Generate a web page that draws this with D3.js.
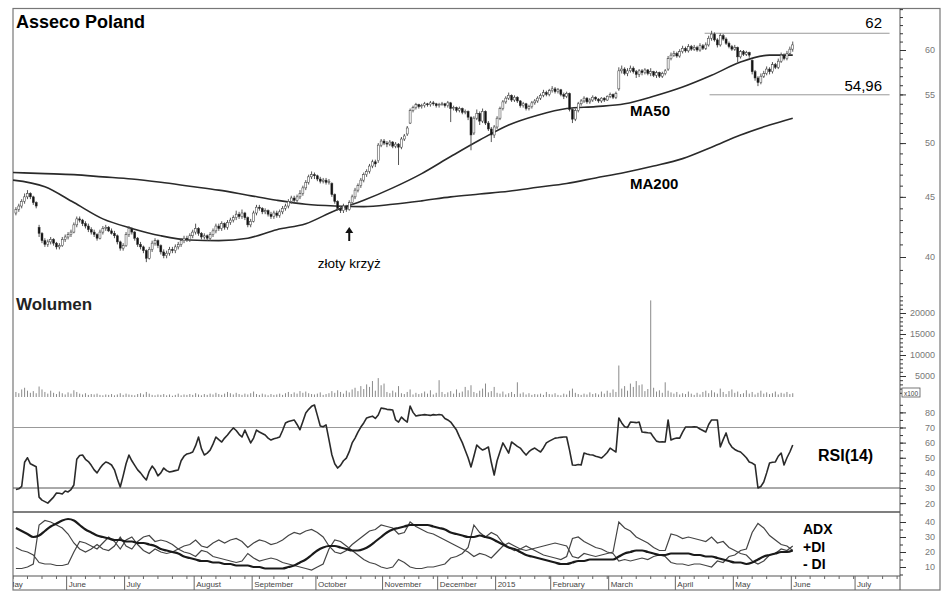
<!DOCTYPE html>
<html><head><meta charset="utf-8">
<script src="https://cdn.jsdelivr.net/npm/d3@7"></script>
<style>body{margin:0;background:#fff}svg{display:block;font-family:"Liberation Sans",Arial,sans-serif}</style>
</head><body>
<svg id="c" width="948" height="593"></svg>
<script>
// ---- data: one entry per trading session (May 2014 - early June 2015) ----
const open=[
43.6,43.9,44.2,44.6,45.0,45.3,45.0,44.5,42.4,41.9,
41.3,41.0,41.2,41.4,41.1,40.8,40.9,41.4,41.6,41.8,
42.0,42.6,43.1,43.0,42.7,42.5,42.2,42.0,41.8,41.5,
42.0,42.3,42.4,42.1,41.9,41.7,41.2,40.7,40.9,41.8,
42.3,42.0,41.5,41.0,40.8,40.5,39.9,40.6,41.1,41.3,
40.9,40.4,40.1,40.3,40.6,40.5,40.8,41.0,41.3,41.5,
41.4,41.7,42.0,42.3,41.9,41.6,41.7,41.5,41.8,42.1,
42.5,42.3,42.7,42.4,42.8,43.0,43.2,43.5,43.3,43.6,
43.2,42.6,42.9,43.6,44.1,44.0,43.7,43.8,43.5,43.3,
43.6,43.4,43.7,44.0,44.2,44.6,44.9,44.7,45.0,45.3,
45.8,46.3,46.8,47.0,46.9,46.6,46.4,46.5,46.3,46.2,
45.2,44.6,44.0,43.8,44.2,43.9,44.5,45.0,45.6,46.0,
46.5,47.0,47.3,47.8,48.2,48.3,49.8,50.2,50.0,49.9,
50.1,49.7,49.9,49.6,50.4,50.9,52.0,53.3,53.6,53.9,
53.7,53.8,54.0,53.9,54.1,54.0,53.8,53.9,54.0,53.8,
54.1,53.5,53.6,53.3,53.5,53.1,53.2,52.6,51.0,52.5,
53.0,52.2,53.2,52.0,51.4,50.8,51.6,52.5,53.5,54.2,
54.6,54.9,54.4,54.7,54.3,53.8,54.0,53.5,53.7,54.1,
54.3,54.6,54.9,55.2,55.0,55.4,55.6,55.3,55.5,55.0,
54.8,55.1,53.4,52.4,53.3,54.0,54.3,54.6,54.2,54.4,
54.7,54.5,54.3,54.6,54.4,54.8,55.0,54.7,55.6,57.6,
57.8,57.3,57.6,57.9,57.5,57.2,57.6,57.4,57.7,57.3,
57.5,57.1,57.4,57.0,57.3,57.8,59.0,59.4,59.6,59.3,
59.8,60.2,59.9,60.4,60.1,60.3,60.0,60.5,60.2,60.6,
61.4,61.9,61.2,60.6,61.7,61.3,60.8,60.4,60.1,60.3,
59.2,59.8,59.5,59.7,58.8,57.5,56.8,56.3,57.0,57.3,
57.8,57.5,58.3,58.0,58.7,59.4,59.0,59.6,60.1];
const high=[
44.1,44.4,44.8,45.3,45.6,45.4,45.1,44.6,42.6,42.0,
41.5,41.4,41.6,41.5,41.2,41.1,41.6,41.8,42.0,42.2,
42.8,43.3,43.3,43.1,42.9,42.7,42.4,42.2,41.9,42.2,
42.5,42.6,42.5,42.3,42.1,41.8,41.3,41.1,42.0,42.5,
42.4,42.1,41.6,41.2,40.9,40.6,40.8,41.3,41.5,41.4,
41.0,40.6,40.5,40.8,40.8,41.0,41.2,41.5,41.7,41.7,
41.9,42.2,42.7,42.4,42.0,41.9,41.8,42.0,42.3,42.7,
42.7,42.9,42.8,43.0,43.2,43.4,43.8,43.7,43.9,43.7,
43.3,43.1,43.8,44.3,44.3,44.1,44.0,43.9,43.7,43.8,
43.8,43.9,44.2,44.4,44.8,45.1,45.1,45.2,45.6,46.0,
46.5,47.0,47.3,47.2,47.0,46.8,46.7,46.7,46.6,46.3,
45.3,44.7,44.2,44.4,44.3,44.7,45.2,45.8,46.2,46.7,
47.2,47.5,48.0,48.4,48.4,50.0,50.4,50.4,50.2,50.3,
50.2,50.1,50.0,50.6,50.9,51.7,53.5,53.8,54.1,54.0,
54.0,54.2,54.1,54.3,54.3,54.1,54.1,54.2,54.1,54.3,
54.2,53.8,53.7,53.7,53.6,53.4,53.3,52.7,52.7,53.4,
53.2,53.5,53.3,52.2,51.6,51.8,52.7,53.7,54.4,54.8,
55.2,55.0,54.9,54.8,54.4,54.2,54.1,53.9,54.3,54.5,
54.8,55.1,55.5,55.4,55.6,55.9,55.8,55.7,55.6,55.2,
55.3,55.2,53.6,53.5,54.2,54.5,54.8,54.7,54.6,54.9,
54.8,54.6,54.7,54.7,54.9,55.2,55.1,55.3,58.0,58.2,
58.0,57.9,58.2,58.1,57.7,57.8,57.8,57.9,57.8,57.9,
57.6,57.6,57.5,57.5,57.8,59.3,59.7,59.9,59.8,60.1,
60.5,60.4,60.7,60.6,60.6,60.5,60.8,60.7,60.9,61.7,
62.3,62.1,61.4,62.0,61.9,61.5,61.0,60.6,60.6,60.4,
60.0,60.0,59.9,59.8,58.9,57.7,57.0,57.3,57.6,58.1,
58.0,58.6,58.5,59.0,59.7,59.6,59.9,60.4,61.0];
const low=[
43.4,43.7,44.0,44.4,44.8,44.8,44.3,44.0,41.6,41.1,
40.8,40.8,41.0,40.9,40.6,40.6,40.8,41.2,41.4,41.6,
41.9,42.4,42.8,42.5,42.3,42.0,41.8,41.6,41.3,41.4,
41.8,42.1,42.0,41.8,41.5,41.0,40.5,40.5,40.8,41.6,
41.8,41.3,40.8,40.6,40.3,39.6,39.8,40.4,40.9,40.7,
40.2,39.9,39.9,40.1,40.3,40.3,40.6,40.8,41.1,41.2,
41.2,41.5,41.8,41.7,41.4,41.4,41.3,41.3,41.6,41.9,
42.1,42.1,42.2,42.2,42.6,42.8,43.0,43.1,43.1,43.0,
42.4,42.4,42.8,43.4,43.8,43.5,43.5,43.3,43.1,43.1,
43.2,43.2,43.5,43.8,44.0,44.4,44.5,44.5,44.8,45.1,
45.6,46.1,46.6,46.6,46.4,46.2,46.2,46.1,46.1,45.0,
44.4,43.8,43.6,43.6,43.7,43.8,44.3,44.8,45.4,45.8,
46.3,46.8,47.1,47.6,47.7,48.1,49.6,49.8,49.6,49.7,
49.5,49.5,47.9,49.4,50.2,50.7,51.9,53.1,53.4,53.5,
53.5,53.6,53.7,53.7,53.8,53.6,53.6,53.8,53.6,53.6,
52.1,53.3,53.1,53.1,52.9,52.9,52.3,49.3,50.8,52.3,
51.8,52.0,51.8,51.2,50.1,50.5,51.4,52.3,53.3,54.0,
54.4,54.2,54.2,54.1,53.6,53.6,53.3,53.3,53.5,53.9,
54.1,54.4,54.7,54.8,54.8,55.2,55.1,55.1,54.8,54.5,
54.6,53.2,52.0,52.2,53.1,53.8,54.1,54.0,54.0,54.2,
54.3,54.1,54.1,54.2,54.3,54.6,54.5,54.5,55.4,57.3,
57.1,57.0,57.4,57.3,56.8,56.9,57.1,57.2,57.1,57.0,
56.9,56.8,56.8,56.8,57.1,57.6,58.8,59.2,59.1,59.1,
59.6,59.7,59.7,59.9,59.9,59.8,59.8,60.0,60.0,60.4,
61.1,61.0,60.3,60.4,61.1,60.6,60.2,59.9,59.9,58.6,
59.0,59.3,59.3,59.1,57.2,56.5,55.9,56.1,56.8,57.1,
57.2,57.3,57.8,57.8,58.5,58.8,58.8,59.4,59.8];
const close=[
43.9,44.2,44.6,45.0,45.3,45.0,44.5,44.2,41.9,41.3,
41.0,41.2,41.4,41.1,40.8,40.9,41.4,41.6,41.8,42.0,
42.6,43.1,43.0,42.7,42.5,42.2,42.0,41.8,41.5,42.0,
42.3,42.4,42.1,41.9,41.7,41.2,40.7,40.9,41.8,42.3,
42.0,41.5,41.0,40.8,40.5,39.9,40.6,41.1,41.3,40.9,
40.4,40.1,40.3,40.6,40.5,40.8,41.0,41.3,41.5,41.4,
41.7,42.0,42.3,41.9,41.6,41.7,41.5,41.8,42.1,42.5,
42.3,42.7,42.4,42.8,43.0,43.2,43.5,43.3,43.6,43.2,
42.6,42.9,43.6,44.1,44.0,43.7,43.8,43.5,43.3,43.6,
43.4,43.7,44.0,44.2,44.6,44.9,44.7,45.0,45.3,45.8,
46.3,46.8,47.0,46.9,46.6,46.4,46.5,46.3,46.4,45.2,
44.6,44.0,43.8,44.2,43.9,44.5,45.0,45.6,46.0,46.5,
47.0,47.3,47.8,48.2,48.0,49.8,50.2,50.0,49.9,50.1,
49.7,49.9,49.6,50.4,50.7,51.5,53.3,53.6,53.9,53.7,
53.8,54.0,53.9,54.1,54.0,53.8,53.9,54.0,53.8,54.1,
53.5,53.6,53.3,53.5,53.1,53.2,52.6,50.8,52.5,53.0,
52.2,53.2,52.0,51.4,50.8,51.6,52.5,53.5,54.2,54.6,
54.9,54.4,54.7,54.3,53.8,54.0,53.5,53.7,54.1,54.3,
54.6,54.9,55.2,55.0,55.4,55.6,55.3,55.5,55.0,54.8,
55.1,53.4,52.4,53.3,54.0,54.3,54.6,54.2,54.4,54.7,
54.5,54.3,54.6,54.4,54.8,55.0,54.7,55.1,57.6,57.8,
57.3,57.6,57.9,57.5,57.2,57.6,57.4,57.7,57.3,57.5,
57.1,57.4,57.0,57.3,57.6,59.0,59.4,59.6,59.3,59.8,
60.2,59.9,60.4,60.1,60.3,60.0,60.5,60.2,60.6,61.4,
61.9,61.2,60.6,61.7,61.3,60.8,60.4,60.1,60.3,59.2,
59.8,59.5,59.7,59.4,57.5,56.8,56.3,57.0,57.3,57.8,
57.5,58.3,58.0,58.7,59.4,59.0,59.6,60.1,60.6];
// volume in hundreds of shares
const volume=[
1200,900,1800,2200,1500,1000,1400,900,2500,1800,
1200,800,1500,1000,700,1300,900,600,1100,800,
1600,1200,800,600,900,500,700,600,800,500,
400,600,500,700,400,600,900,500,800,600,
500,400,700,900,600,1200,800,500,400,600,
500,700,400,600,300,500,800,400,600,500,
700,500,900,600,400,700,500,800,600,1000,
700,500,800,1200,900,600,1000,700,500,800,
600,900,1300,700,500,800,600,400,700,500,
600,800,500,900,1200,700,1100,800,1400,1000,
1300,900,700,600,800,1100,500,700,900,1400,
1000,1600,1200,800,1500,1100,1800,2200,1400,2600,
1900,3000,2400,3800,1500,4500,2800,3200,1200,900,
1500,1100,2600,900,700,1200,1800,600,1000,700,
900,1300,800,1600,600,1000,4000,1200,700,1100,
1400,800,1800,1000,1300,2400,1600,2800,1200,900,
1500,2000,3200,1100,1400,2400,1000,800,1300,600,
900,1200,700,3500,800,1100,600,900,500,700,
600,800,500,1200,700,600,900,500,400,800,
600,1500,2000,1000,700,500,800,600,1100,700,
900,600,1300,800,1500,1000,1800,1200,7500,2000,
2600,1500,3200,2400,3800,2800,3000,1400,1900,23000,
2200,1300,1600,1000,3500,1500,1100,800,1200,600,
900,700,1300,800,500,1000,600,1200,1500,900,
1600,1100,800,2000,1200,700,1400,1800,1000,1300,
700,900,1600,800,1200,600,1000,1500,800,1100,
700,900,1300,600,1000,800,1200,700,900];
const rsi=[
29,29.5,31,47,50,46,45,44,24,22,
21,20,22,24,26.7,26.5,26,28,27.4,29,
32,49,51.5,51.8,49,47.5,45,42,40,43,
45.5,47.2,46.5,45.2,42,36,30.7,38,46,51.8,
48,45,42,40,37.5,35.3,41,44.5,42,38,
40,43.2,41.5,40.6,41,41.5,41.9,48,51,52.5,
53,53.8,58,63.7,56,51.8,53.1,55,59,63.7,
62,60.4,63,65,67.5,69.7,68,65.5,63.7,68.3,
64,59.8,63,68.3,67,66,65,63,61.7,62.5,
63,63.7,68,73,74,74.5,75,72,68.5,74,
79.6,82,84,84.9,78,71,70.5,71.7,62,52,
46,43.2,45,48,49.8,54,59.8,63,67,70.3,
73,76.3,77,77.5,76,78.3,82.9,82.5,82,81.8,
81.6,75,73.6,76.9,75,73.6,84.2,80,77.6,78,
78.3,78.5,78.3,78,78.5,78.3,78.6,78.3,76,75,
73.6,71,68.3,64,60,55,50,43.9,51,58.4,
56.5,55.1,56,57.1,47,38.6,48,54,59.8,56.5,
53.1,60.4,59,57.5,56.4,54,51.8,54,55.5,56.4,
55,53.8,56.5,59.8,61,62,63,63.2,63.5,63.7,
63.7,55,45.2,45,45.5,45.2,53.1,52.5,52,51.8,
51,50.5,49.8,51.5,53.5,56.4,55,53.8,76.3,73,
70.5,70,73.6,73.5,73.2,73.6,67,66.8,66.5,66.4,
63.5,61,60.4,60.5,60.4,75,61.7,62.5,63,63,
67,70.3,70.3,70.3,70.5,70.3,69,68,67,72,
75,75,75,57.1,62,66.4,60,57.1,55.5,54.5,
53.8,52,50,47.2,46.5,45.2,30,31,34,40,
46.5,47,47.2,51,53.1,45.2,50,53.8,58.4];
// ADX(14), +DI, -DI: one reading every second session
const adx=[
36,34,32,30,31,34,37,39,41,42,
41,38,35,33,31,30,29,28,28,27,
27,26,26,25,24,22,21,20,19,17,
16,15,14,14,13,13,12,12,11,11,
11,10,10,9,9,9,9,10,11,13,
15,18,21,23,24,24,23,22,21,21,
22,24,27,30,33,35,36,37,38,38,
38,38,37,36,35,33,32,31,30,30,
31,30,29,27,25,23,22,20,18,17,
16,15,14,13,12,12,13,14,14,15,
15,15,15,15,17,19,20,21,21,20,
19,18,18,19,19,19,19,18,18,17,
17,16,15,14,13,13,12,13,15,17,
18,19,20,20,21];
const plusDI=[
23,21,20,18,13,12,12,11,11,12,
20,27,26,24,22,26,30,27,22,28,
30,25,21,19,22,20,19,20,22,24,
25,28,24,23,26,28,26,28,29,27,
23,26,28,27,25,26,28,31,33,32,
34,35,33,30,24,20,19,21,25,28,
31,34,35,38,37,36,32,33,40,37,
35,33,32,30,28,26,24,22,20,17,
19,18,16,20,24,26,24,22,21,22,
23,24,25,26,25,24,17,16,19,18,
17,18,19,20,40,36,34,30,28,26,
23,21,21,32,31,29,30,29,28,27,
30,26,27,23,21,19,18,14,12,14,
18,19,22,21,24];
const minusDI=[
9,9,10,12,38,41,40,38,36,32,
26,22,20,22,25,22,21,24,30,24,
22,27,30,31,27,28,27,25,22,20,
19,17,21,20,17,16,15,14,13,14,
19,16,14,15,16,15,13,12,11,10,
9,8,10,12,22,28,27,24,21,18,
15,13,12,10,9,10,15,13,10,9,
9,10,10,11,12,16,17,19,23,38,
33,30,33,31,26,23,21,22,24,22,
20,18,17,16,15,17,29,30,27,25,
23,22,20,19,14,15,14,15,16,15,
17,18,17,13,12,12,11,12,12,11,
10,14,13,17,18,21,22,33,39,36,
31,28,25,24,21];
// moving averages read at sample sessions
const maDays=[-1,10,20,30,40,50,60,70,80,90,100,110,120,130,140,150,160,170,180,190,200,210,220,230,240,250,260,268];
const ma50=[46.5,45.9,44.5,43.1,42.3,41.7,41.35,41.3,41.5,42.2,42.7,43.8,44.7,45.8,47.1,48.7,50.3,51.8,52.8,53.5,53.7,54.0,54.8,55.8,57.1,58.6,59.4,59.4];
const ma200=[47.2,47.1,47.0,46.8,46.6,46.3,45.95,45.6,45.15,44.7,44.35,44.2,44.15,44.35,44.65,45.0,45.25,45.5,45.85,46.2,46.7,47.2,47.8,48.5,49.6,50.8,51.8,52.5];
const months=["May","June","July","August","September","October","November","December","2015","February","March","April","May","June","July"];
const monthStart=[-3.5,17.5,37.5,61.5,81.5,103.5,126.5,145.5,165.5,184.5,204.5,227.5,247.5,267.5,289.5];
const priceTicks=[40,45,50,55,60];
const volTicks=[5000,10000,15000,20000];
const rsiTicks=[20,30,40,50,60,70,80];
const adxTicks=[10,20,30,40];
const resistance=62, support=54.96;
const goldenCross=115;

// ---- drawing ----
const svg=d3.select("#c");
const L=13,R=900,FR=940,TOP=8.5,BOT=590;
const x=d3.scaleLinear().domain([-1,305]).range([L,R]);
const yP=d3.scaleLog().domain([40,60]).range([257,50]);
const yV=d3.scaleLinear().domain([0,20000]).range([397,313]);
const yR=d3.scaleLinear().domain([30,70]).range([488,427.5]);
const yA=d3.scaleLinear().domain([10,40]).range([567,522]);
const idx=d3.range(close.length);

const defs=svg.append("defs");
defs.append("clipPath").attr("id","cp").append("rect").attr("x",L).attr("y",TOP).attr("width",R-L).attr("height",285);
defs.append("clipPath").attr("id","cx").append("rect").attr("x",L).attr("y",570).attr("width",R-L).attr("height",20);

// frame
svg.append("rect").attr("x",L).attr("y",TOP).attr("width",FR-L).attr("height",BOT-TOP).attr("fill","none").attr("stroke","#777").attr("stroke-width",1.2);
svg.append("line").attr("x1",R).attr("x2",R).attr("y1",TOP).attr("y2",BOT).attr("stroke","#555");

// price panel
const gp=svg.append("g").attr("clip-path","url(#cp)");
gp.append("g").selectAll("line").data([resistance,support]).join("line")
  .attr("x1",(d,i)=>x(i?239.3:237.6)).attr("x2",x(301.4))
  .attr("y1",d=>yP(d)).attr("y2",d=>yP(d)).attr("stroke","#999").attr("stroke-width",1);
const line=(ys)=>d3.line().x(d=>x(d[0])).y(d=>ys(d[1]));
gp.append("path").datum(maDays.map((d,i)=>[d,ma200[i]])).attr("fill","none").attr("stroke","#2a2a2a").attr("stroke-width",1.6)
  .attr("d",line(yP).curve(d3.curveMonotoneX));
gp.append("path").datum(maDays.map((d,i)=>[d,ma50[i]])).attr("fill","none").attr("stroke","#2a2a2a").attr("stroke-width",1.6)
  .attr("d",line(yP).curve(d3.curveMonotoneX));
const cg=gp.append("g");
cg.selectAll("line").data(idx).join("line")
  .attr("x1",i=>x(i)).attr("x2",i=>x(i)).attr("y1",i=>yP(high[i])).attr("y2",i=>yP(low[i]))
  .attr("stroke","#555").attr("stroke-width",1);
cg.selectAll("rect").data(idx).join("rect")
  .attr("x",i=>x(i)-1).attr("width",2)
  .attr("y",i=>yP(Math.max(open[i],close[i])))
  .attr("height",i=>Math.max(1,Math.abs(yP(open[i])-yP(close[i]))))
  .attr("fill",i=>close[i]>=open[i]?"#fff":"#111").attr("stroke","#333").attr("stroke-width",0.5);

// annotations
svg.append("text").attr("x",16).attr("y",28).attr("font-size",18).attr("font-weight","bold").text("Asseco Poland");
svg.append("text").attr("x",882).attr("y",28).attr("text-anchor","end").attr("font-size",15).text(String(resistance));
svg.append("text").attr("x",882).attr("y",91).attr("text-anchor","end").attr("font-size",15).text(String(support).replace(".",","));
svg.append("text").attr("x",630).attr("y",116).attr("font-size",15).attr("font-weight","bold").text("MA50");
svg.append("text").attr("x",630).attr("y",189).attr("font-size",15).attr("font-weight","bold").text("MA200");
const ax=x(goldenCross);
svg.append("line").attr("x1",ax).attr("x2",ax).attr("y1",232).attr("y2",241).attr("stroke","#111").attr("stroke-width",2);
svg.append("path").attr("d",`M${ax-4},233 L${ax},227 L${ax+4},233 Z`).attr("fill","#111");
svg.append("text").attr("x",ax).attr("y",268).attr("text-anchor","middle").attr("font-size",13.5).text("złoty krzyż");

// volume
svg.append("text").attr("x",16).attr("y",310).attr("font-size",17).attr("font-weight","bold").attr("fill","#222").text("Wolumen");
svg.append("g").selectAll("line").data(idx).join("line")
  .attr("x1",i=>x(i)).attr("x2",i=>x(i)).attr("y1",yV(0)).attr("y2",i=>yV(volume[i]))
  .attr("stroke","#8a8a8a").attr("stroke-width",1);

// RSI
svg.append("line").attr("x1",L).attr("x2",R).attr("y1",yR(70)).attr("y2",yR(70)).attr("stroke","#999");
svg.append("line").attr("x1",L).attr("x2",R).attr("y1",yR(30)).attr("y2",yR(30)).attr("stroke","#555");
svg.append("path").datum(idx.map(i=>[i,rsi[i]])).attr("fill","none").attr("stroke","#2a2a2a").attr("stroke-width",1.6)
  .attr("stroke-linejoin","round").attr("d",line(yR));
svg.append("text").attr("x",818).attr("y",461).attr("font-size",16).attr("font-weight","bold").text("RSI(14)");

// ADX panel
svg.append("line").attr("x1",L).attr("x2",R).attr("y1",512).attr("y2",512).attr("stroke","#555").attr("stroke-width",1.3);
const dl=(arr)=>arr.map((v,k)=>[k*2,v]);
svg.append("path").datum(dl(plusDI)).attr("fill","none").attr("stroke","#444").attr("stroke-width",1.2).attr("d",line(yA));
svg.append("path").datum(dl(minusDI)).attr("fill","none").attr("stroke","#444").attr("stroke-width",1.2).attr("d",line(yA));
svg.append("path").datum(dl(adx)).attr("fill","none").attr("stroke","#1a1a1a").attr("stroke-width",2.2).attr("d",line(yA).curve(d3.curveMonotoneX));
[["ADX",534],["+DI",552],["- DI",569]].forEach(([t,yy])=>
  svg.append("text").attr("x",803).attr("y",yy).attr("font-size",14).attr("font-weight","bold").text(t));

// right axes
function rAxis(scale,minor,major,fmt){
  const g=svg.append("g").attr("transform",`translate(${R},0)`);
  g.append("g").call(d3.axisRight(scale).tickValues(minor).tickSize(3).tickFormat("")).call(s=>s.select(".domain").remove());
  const m=g.append("g").call(d3.axisRight(scale).tickValues(major).tickSize(6).tickFormat(fmt));
  m.select(".domain").remove();
  m.selectAll("text").attr("x",35).attr("text-anchor","end").attr("font-size",9).attr("fill","#777").attr("font-family","Liberation Sans, Arial");
  g.selectAll(".tick line").attr("stroke","#333");
}
rAxis(yP,d3.range(38,66),priceTicks,d=>d);
rAxis(yV,d3.range(1000,25000,1000),volTicks,d=>d);
rAxis(yR,d3.range(20,90,5),rsiTicks,d=>d);
rAxis(yA,d3.range(5,46,5),adxTicks,d=>d);
svg.append("rect").attr("x",902).attr("y",388).attr("width",18).attr("height",9).attr("fill","#fff").attr("stroke","#555").attr("stroke-width",0.8);
svg.append("text").attr("x",904).attr("y",395.5).attr("font-size",6.5).attr("fill","#444").text("x100");

// time axis band
svg.append("line").attr("x1",L).attr("x2",R).attr("y1",576).attr("y2",576).attr("stroke","#555").attr("stroke-width",1.2);
const gx=svg.append("g").attr("clip-path","url(#cx)");
gx.selectAll("line.w").data(d3.range(-1,305,5)).join("line").attr("class","w")
  .attr("x1",d=>x(d)).attr("x2",d=>x(d)).attr("y1",576).attr("y2",579).attr("stroke","#666");
gx.selectAll("line.m").data(monthStart).join("line").attr("class","m")
  .attr("x1",d=>x(d)).attr("x2",d=>x(d)).attr("y1",576).attr("y2",BOT).attr("stroke","#666");
gx.selectAll("text").data(months).join("text")
  .attr("x",(d,i)=>x(monthStart[i])+2).attr("y",587).attr("font-size",8).attr("fill","#444").text(d=>d);
</script>
</body></html>
